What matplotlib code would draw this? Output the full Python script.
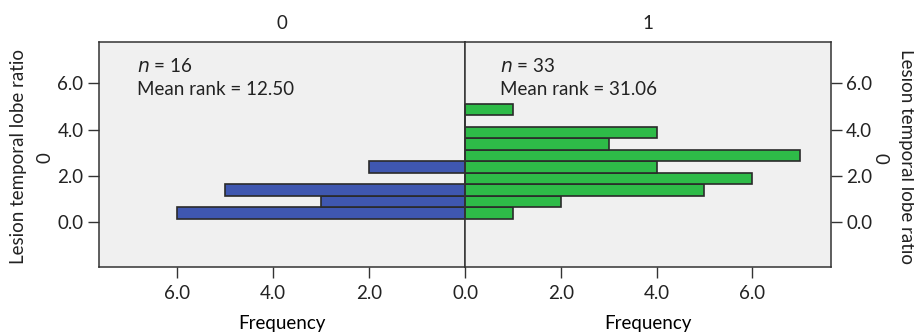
import matplotlib.pyplot as plt

plt.rcParams['font.family'] = ['Lato', 'DejaVu Sans']
plt.rcParams['text.color'] = '#222222'
plt.rcParams['xtick.labelcolor'] = '#222222'
plt.rcParams['ytick.labelcolor'] = '#222222'

# Histogram bins of the lesion temporal lobe ratio (bin centres) and counts per group
bin_centres = [0.375, 0.875, 1.375, 1.875, 2.375, 2.875, 3.375, 3.875, 4.375, 4.875]
counts_0 = [6, 3, 5, 0, 2, 0, 0, 0, 0, 0]
counts_1 = [1, 2, 5, 6, 4, 7, 3, 4, 0, 1]
bin_width = 0.5

groups = ['0', '1']
n_values = [16, 33]
mean_ranks = [12.50, 31.06]
freq_ticks = [0.0, 2.0, 4.0, 6.0]
ratio_ticks = [0.0, 2.0, 4.0, 6.0]

blue = '#3F57B0'
green = '#2EBB48'
bg = '#F0F0F0'
edge = '#2a2a2a'
fs = 13.5

fig = plt.figure(figsize=(9.14, 3.34), dpi=100)
ax_l = fig.add_axes([0.108, 0.2006, 0.401, 0.6737])
ax_r = fig.add_axes([0.509, 0.2006, 0.400, 0.6737])

ax_l.barh(bin_centres, counts_0, height=bin_width, color=blue, edgecolor=edge, linewidth=1.2)
ax_r.barh(bin_centres, counts_1, height=bin_width, color=green, edgecolor=edge, linewidth=1.2)

for ax in (ax_l, ax_r):
    ax.set_facecolor(bg)
    ax.set_ylim(-1.97, 7.8)
    ax.set_xlabel('Frequency', fontsize=fs, labelpad=9)
    for s in ax.spines.values():
        s.set_color('#333333')
        s.set_linewidth(1.1)
    ax.tick_params(axis='both', direction='out', length=8, width=1.0, color='#333333', labelsize=fs, pad=3)
    ax.tick_params(axis='x', pad=5)

# the 0.0 label at the shared centre line is drawn only once
ax_l.set_xticks(freq_ticks[1:])
ax_l.set_xticklabels([f'{t:.1f}' for t in freq_ticks[1:]])
ax_r.set_xticks(freq_ticks)
ax_r.set_xticklabels([f'{t:.1f}' for t in freq_ticks])

ax_l.set_xlim(7.63, 0)
ax_r.set_xlim(0, 7.64)

ax_l.set_yticks(ratio_ticks)
ax_l.set_yticklabels([f'{t:.1f}' for t in ratio_ticks])
ax_r.yaxis.tick_right()
ax_r.set_yticks(ratio_ticks)
ax_r.set_yticklabels([f'{t:.1f}' for t in ratio_ticks])
ax_r.tick_params(axis='y', left=False)

ax_l.set_title(groups[0], fontsize=fs, pad=9)
ax_r.set_title(groups[1], fontsize=fs, pad=9)

# axis titles on both sides
fig.text(0.02, 0.53, 'Lesion temporal lobe ratio', rotation=90, ha='center', va='center', fontsize=fs)
fig.text(0.049, 0.527, '0', rotation=90, ha='center', va='center', fontsize=fs)
fig.text(0.992, 0.53, 'Lesion temporal lobe ratio', rotation=270, ha='center', va='center', fontsize=fs)
fig.text(0.963, 0.527, '0', rotation=270, ha='center', va='center', fontsize=fs)

# group statistics
for ax, n, mr, x in ((ax_l, n_values[0], mean_ranks[0], 0.105), (ax_r, n_values[1], mean_ranks[1], 0.095)):
    ax.text(x, 0.895, f'$n$ = {n}', transform=ax.transAxes, fontsize=fs, va='center')
    ax.text(x, 0.79, f'Mean rank = {mr:.2f}', transform=ax.transAxes, fontsize=fs, va='center')

fig.savefig('out.png', dpi=100)
